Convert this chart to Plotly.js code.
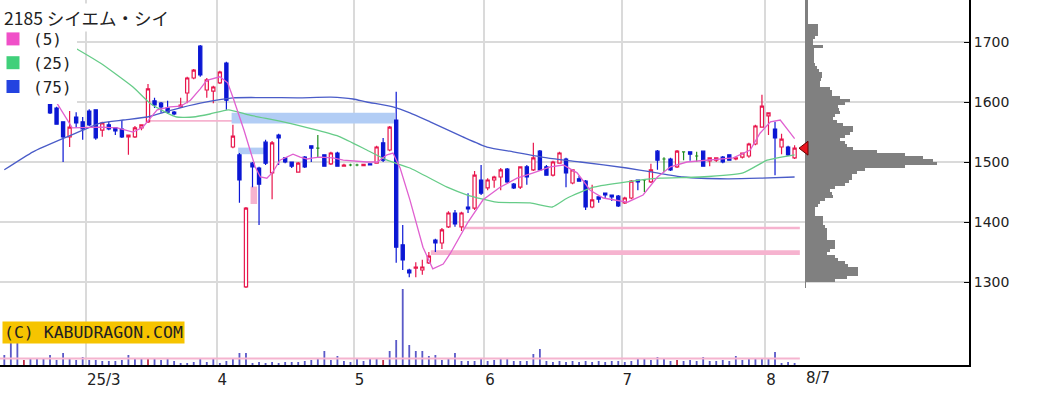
<!DOCTYPE html>
<html><head><meta charset="utf-8">
<script src="https://cdn.plot.ly/plotly-3.0.1.min.js"></script>
<style>html,body{margin:0;padding:0;background:#fff}#chart{width:1038px;height:398px}</style>
</head><body><div id="chart"></div>
<script>
// ---- daily OHLC (index 0 = 2025-02-10 ... index 121 = 2025-08-07) ----
const openP  = [1725,1730,1705,1675,1645,1610,1606,1605,1590,1567,
                1542,1575,1567,1585,1587,1553,1562,1557,1555,1542,
                1542,1557,1567,1602,1598,1590,1583,1592,1615,1640,
                1693,1620,1618,1632,1665,1525,1512,1292,1498,1490,
                1533,1482,1545,1507,1500,1483,1508,1527,1523,1512,
                1497,1515,1493,1495,1495,1494,1497,1498,1532,1520,
                1570,1362,1320,1323,1320,1332,1370,1365,1392,1415,
                1392,1425,1423,1470,1457,1470,1475,1488,1463,1458,
                1492,1487,1518,1492,1478,1498,1505,1465,1472,1468,
                1425,1442,1448,1445,1443,1432,1440,1470,1470,1467,
                1518,1505,1505,1492,1517,1517,1510,1518,1502,1503,
                1508,1512,1505,1508,1510,1530,1558,1577,1555,1525,
                1525,1507];
const highP  = [1740,1735,1708,1680,1650,1612,1608,1607,1592,1568,
                1585,1583,1575,1588,1588,1567,1567,1558,1570,1546,
                1560,1563,1630,1607,1600,1602,1585,1607,1642,1655,
                1695,1640,1627,1652,1667,1562,1515,1425,1500,1492,
                1537,1535,1547,1508,1501,1500,1510,1528,1545,1513,
                1517,1517,1497,1497,1497,1497,1498,1527,1540,1560,
                1617,1395,1322,1333,1337,1350,1372,1390,1418,1420,
                1417,1448,1485,1495,1473,1477,1490,1490,1465,1493,
                1495,1532,1520,1495,1502,1517,1507,1488,1477,1470,
                1462,1443,1449,1446,1445,1442,1470,1471,1471,1497,
                1520,1508,1507,1520,1518,1518,1517,1519,1507,1507,
                1510,1513,1508,1516,1532,1562,1612,1582,1567,1547,
                1527,1528];
const lowP   = [1715,1705,1678,1640,1612,1600,1600,1580,1562,1500,
                1525,1557,1537,1560,1537,1542,1553,1545,1540,1512,
                1540,1553,1565,1590,1582,1580,1578,1590,1598,1638,
                1642,1607,1598,1630,1587,1523,1432,1290,1458,1395,
                1495,1438,1495,1498,1490,1482,1490,1500,1507,1492,
                1495,1492,1492,1493,1493,1493,1494,1497,1500,1518,
                1332,1320,1308,1308,1312,1330,1350,1355,1390,1392,
                1385,1415,1420,1445,1453,1457,1453,1465,1455,1455,
                1462,1485,1485,1477,1476,1497,1458,1463,1467,1420,
                1423,1432,1440,1435,1425,1430,1438,1453,1450,1465,
                1487,1483,1485,1490,1503,1502,1500,1493,1493,1500,
                1498,1502,1503,1506,1507,1528,1557,1545,1478,1513,
                1510,1505];
const closeP = [1730,1712,1682,1645,1618,1605,1603,1582,1563,1542,
                1558,1565,1555,1562,1540,1565,1555,1552,1542,1545,
                1557,1562,1622,1595,1592,1583,1580,1595,1640,1653,
                1645,1637,1625,1650,1603,1543,1470,1423,1492,1463,
                1498,1532,1540,1500,1493,1498,1492,1523,1523,1493,
                1515,1493,1495,1495,1495,1496,1495,1525,1503,1558,
                1358,1337,1315,1325,1325,1343,1365,1387,1415,1397,
                1415,1422,1478,1448,1470,1475,1487,1467,1457,1492,
                1475,1507,1487,1478,1500,1515,1482,1487,1468,1425,
                1437,1438,1445,1442,1427,1440,1468,1467,1470,1487,
                1503,1505,1487,1518,1517,1513,1510,1493,1507,1507,
                1500,1503,1507,1515,1530,1560,1593,1582,1540,1538,
                1512,1523];
// ---- volume (relative units) ----
const volume = [10,22,23,5,7,7,7,10,5,12,
                7,5,8,5,5,4,4,4,5,10,
                6,6,7,6,5,7,4,2,2,3,
                6,3,6,2,4,6,12,12,2,3,
                2,3,2,3,3,3,4,5,7,14,
                5,9,4,3,7,4,7,6,5,14,
                25,76,20,14,14,9,10,5,6,12,
                4,4,4,7,4,5,6,6,4,4,
                4,11,16,4,3,4,3,4,3,4,
                3,4,3,4,4,3,4,6,7,5,
                8,6,4,5,4,5,4,8,4,4,
                5,4,9,5,7,7,7,6,13,2,
                3,2];
const volumeRedIdx = [3,22,58,103];
const volumeAvg = 6.5;
// ---- moving averages (index, price) ----
const ma5Idx = [3,7.8,10.4,14.7,17.3,19.7,21.2,23.4,25.4,27,28.5,30,31,33,34.2,35,36.7,38.4,39.2,40.2,41.1,42.2,43.3,44.2,45.3,46.4,47.3,48.3,50.3,51.9,55.5,57.1,58.6,59.5,60.6,62.1,64.1,65.6,67.2,68.3,70.9,73.3,75.9,78.5,81,83.6,85.6,87.7,89.7,91.7,95.4,97.8,100,102,104.5,108,111.6,114.2,115.7,117.3,118.8,120,121];
const ma5Val = [1687,1603,1557,1558,1557,1550,1558,1587,1592,1593,1603,1622,1636,1642,1632,1608,1553,1492,1475,1473,1483,1503,1508,1513,1508,1505,1507,1508,1507,1503,1500,1500,1512,1515,1490,1437,1358,1322,1330,1348,1398,1437,1458,1473,1482,1492,1495,1482,1453,1440,1433,1445,1475,1492,1500,1503,1507,1520,1548,1567,1570,1553,1539];
const ma25Idx = [9.6,14.7,19.7,22.3,24.9,26.4,28.9,31.5,34.3,37.6,42.7,47.9,51.4,55.5,58.6,62.1,67.8,70.9,75.4,80.5,83.9,86.2,90.2,95.3,100.4,106.5,113.1,116.8,121];
const ma25Val = [1698,1665,1625,1598,1582,1575,1575,1580,1587,1578,1567,1553,1542,1520,1503,1490,1458,1445,1433,1432,1425,1440,1458,1467,1473,1475,1482,1503,1512];
const ma75Idx = [0,4.4,9.6,12,14.7,18.2,21.9,25.8,30,35,45,50,53.4,55.5,59.5,62.1,65.2,70.2,73.9,77.9,83.1,88.2,95.3,99.3,103.9,110.7,115.7,121];
const ma75Val = [1487,1517,1542,1553,1565,1570,1575,1587,1598,1607,1607,1608,1605,1600,1592,1582,1567,1542,1525,1517,1507,1500,1490,1483,1475,1472,1473,1475];
// ---- gap zones (窓) ----
const gapFrom = [-0.7, 21.9, 34.8, 35.8, 37.7, 65.3, 70.2];
const gapTo   = [7.8, 34.9, 59.8, 39.9, 38.7, 121.8, 121.8];
const gapLow  = [1600, 1567, 1564, 1513, 1430, 1345, 1388];
const gapHigh = [1603, 1570, 1582, 1524, 1459, 1353, 1392];
const gapUp   = [true, true, false, false, true, true, true];
// ---- price-volume profile (5-yen bins from 1290) ----
const profileStart = 1290, profileStep = 5;
const profileVol = [1,1,30,42,53,53,53,43,40,33,
                    30,22,25,30,30,30,22,22,22,22,
                    20,18,18,18,10,10,10,13,15,20,
                    28,27,25,30,40,44,47,47,52,60,
                    100,132,128,118,100,72,48,42,40,35,
                    40,45,48,48,38,32,28,30,35,34,
                    33,40,45,35,27,27,25,15,15,16,
                    17,17,14,12,10,9,9,9,9,9,
                    18,8,8,10,13,13,13,13,3,3,
                    3,3,3,3,3,3];
// ---- axes labels ----
const monthTickIdx  = [12.5, 32.5, 53.5, 73.5, 94.5, 116.5];
const monthTickText = ['25/3','4','5','6','7','8'];
const lastDateText = '8/7';
const priceTicks = [1300,1400,1500,1600,1700];
const titleText = '2185 シイエム・シイ';
const maNames = ['(5)','(25)','(75)'];
const copyright = '(C) KABUDRAGON.COM';

// ---- build ----
const RED='#e8174d', BLUE='#0b17d4', GREEN='#1e8c1e';
const idx = closeP.map((_,i)=>i);
function pick(cond){
  const s = idx.filter(cond);
  return {x:s, open:s.map(i=>openP[i]), high:s.map(i=>highP[i]), low:s.map(i=>lowP[i]), close:s.map(i=>closeP[i])};
}
function candle(sub, col, fill){
  return Object.assign({type:'candlestick', xaxis:'x', yaxis:'y', showlegend:false, hoverinfo:'skip', whiskerwidth:0,
    increasing:{line:{color:col,width:1.2}, fillcolor:fill},
    decreasing:{line:{color:col,width:1.2}, fillcolor:fill}}, sub);
}
const lastI = closeP.length-1;
const traces = [];
// volume
traces.push({type:'bar', x:idx, y:volume, xaxis:'x', yaxis:'y2', width:0.28, showlegend:false, hoverinfo:'skip',
  marker:{color: idx.map(i=>volumeRedIdx.includes(i)?'#c0304a':'#5a5ac8'), line:{width:0}}});
traces.push({type:'scatter', mode:'lines', x:[-0.7, lastI+0.8], y:[volumeAvg, volumeAvg], xaxis:'x', yaxis:'y2',
  line:{color:'#f5b4cf', width:2}, showlegend:false, hoverinfo:'skip'});
// MAs
traces.push({type:'scatter', mode:'lines', x:ma75Idx, y:ma75Val, line:{color:'#4a5cc8', width:1.3, shape:'spline', smoothing:0.5}, showlegend:false, hoverinfo:'skip'});
traces.push({type:'scatter', mode:'lines', x:ma25Idx, y:ma25Val, line:{color:'#66cc88', width:1.3, shape:'spline', smoothing:0.5}, showlegend:false, hoverinfo:'skip'});
traces.push({type:'scatter', mode:'lines', x:ma5Idx, y:ma5Val, line:{color:'#e060d0', width:1.3}, showlegend:false, hoverinfo:'skip'});
// candles
traces.push(candle(pick(i=>closeP[i]>openP[i]), RED, '#ffffff'));
traces.push(candle(pick(i=>closeP[i]<openP[i]), BLUE, BLUE));
traces.push(candle(pick(i=>closeP[i]===openP[i]), GREEN, GREEN));
// profile
traces.push({type:'bar', orientation:'h', x:profileVol, y:profileVol.map((_,k)=>profileStart+profileStep*(k+0.5)),
  width:profileStep, xaxis:'x2', yaxis:'y', marker:{color:'#808080', line:{width:0}}, showlegend:false, hoverinfo:'skip'});
traces.push({type:'scatter', mode:'markers', x:[0], y:[closeP[lastI]], xaxis:'x2', yaxis:'y',
  marker:{symbol:'triangle-left', size:12, color:'#e8141e', line:{color:'#600', width:1}}, showlegend:false, hoverinfo:'skip'});
// legend dummies
const legCols = ['#f050c8','#40d07a','#2443e0'];
maNames.forEach((n,k)=>traces.push({type:'scatter', mode:'markers', x:[null], y:[null], name:n,
  marker:{symbol:'square', size:13, color:legCols[k]}}));

const shapes = gapFrom.map((x0,k)=>({type:'rect', xref:'x', yref:'y', x0:x0, x1:gapTo[k], y0:gapLow[k], y1:gapHigh[k],
  fillcolor: gapUp[k]?'#f6b3cf':'#b2cdf5', line:{width:0}, layer:'between'}));

const W=969, H=365;
const layout = {
  width:1038, height:398, margin:{l:0,r:69,t:0,b:33,autoexpand:false}, paper_bgcolor:'#fff', plot_bgcolor:'#fff',
  showlegend:true, dragmode:false,
  font:{family:'DejaVu Sans', size:14, color:'#222'},
  xaxis:{range:[-0.66,147.7], tickmode:'array', tickvals:monthTickIdx, ticktext:monthTickText,
    showgrid:true, gridcolor:'#dadada', gridwidth:2, zeroline:false, showline:true, linecolor:'#000', linewidth:2,
    ticks:'', ticklabelposition:'outside right', tickfont:{size:15, family:'DejaVu Sans', color:'#222'},
    rangeslider:{visible:false}, fixedrange:true, automargin:false},
  yaxis:{range:[1161.7,1770], side:'right', tickmode:'array', tickvals:priceTicks,
    showgrid:true, gridcolor:'#dadada', gridwidth:2, zeroline:false, showline:true, linecolor:'#000', linewidth:2,
    ticks:'inside', ticklen:5, tickcolor:'#000', tickfont:{size:14, family:'DejaVu Sans', color:'#222'}, fixedrange:true, automargin:false},
  xaxis2:{overlaying:'x', range:[-805,164], visible:false, fixedrange:true},
  yaxis2:{overlaying:'y', range:[0,365], visible:false, fixedrange:true},
  legend:{x:-7/W, y:1-22/H, xanchor:'left', yanchor:'top', bgcolor:'#ffffff', borderwidth:0,
    font:{family:'DejaVu Sans Mono', size:16, color:'#222'}, itemwidth:30, tracegroupgap:0, traceorder:'normal'},
  shapes:shapes,
  annotations:[
    {text:titleText, xref:'paper', yref:'paper', x:0, y:1, xanchor:'left', yanchor:'top', showarrow:false,
     xshift:2, yshift:-3, bgcolor:'#ffffff', borderpad:1, font:{family:'Noto Sans CJK JP', size:17.5, color:'#222'}},
    {text:copyright, xref:'paper', yref:'paper', x:0, y:1-332.5/H, xanchor:'left', yanchor:'middle', showarrow:false,
     xshift:2, bgcolor:'#f6c400', borderpad:1, font:{family:'DejaVu Sans Mono', size:16.5, color:'#222'}},
    {text:lastDateText, xref:'x', yref:'paper', x:lastI, y:0, xanchor:'left', yanchor:'top', showarrow:false,
     xshift:9, yshift:-2, font:{family:'DejaVu Sans', size:15, color:'#222'}}
  ]
};
Plotly.newPlot('chart', traces, layout, {displayModeBar:false, staticPlot:true});
</script></body></html>
